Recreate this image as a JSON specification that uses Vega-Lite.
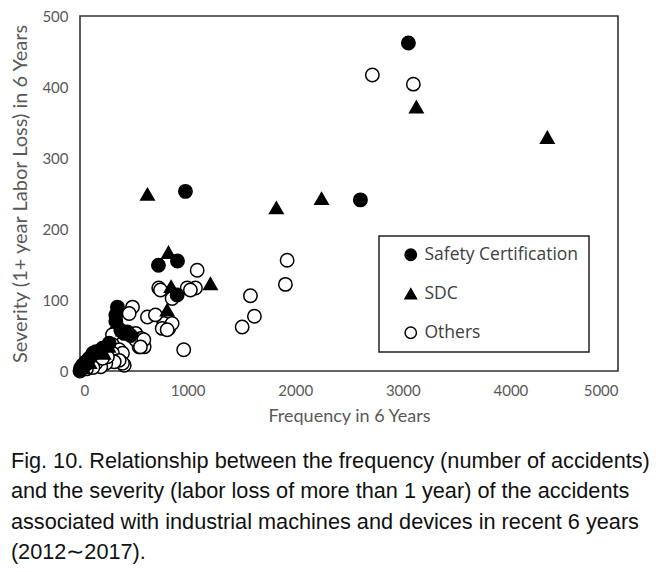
{
  "$schema": "https://vega.github.io/schema/vega-lite/v6.json",
  "width": 538,
  "height": 355,
  "autosize": {"type": "none"},
  "padding": {"left": 80, "top": 16, "right": 41, "bottom": 201},
  "background": "white",
  "title": {
    "text": [
      "Fig. 10. Relationship between the frequency (number of accidents)",
      "and the severity (labor loss of more than 1 year) of the accidents",
      "associated with industrial machines and devices in recent 6 years",
      "(2012∼2017)."
    ],
    "orient": "bottom",
    "anchor": "start",
    "frame": "bounds",
    "baseline": "top",
    "offset": 26,
    "dx": 0,
    "font": "Liberation Sans",
    "fontSize": 21.7,
    "fontWeight": "normal",
    "lineHeight": 30.3,
    "color": "#111111"
  },
  "data": {
    "values": [
      {"freq": 2717, "sev": 417, "type": "Others"},
      {"freq": 3098, "sev": 404, "type": "Others"},
      {"freq": 1925, "sev": 156, "type": "Others"},
      {"freq": 1909, "sev": 122, "type": "Others"},
      {"freq": 1584, "sev": 106, "type": "Others"},
      {"freq": 1621, "sev": 77, "type": "Others"},
      {"freq": 1507, "sev": 62, "type": "Others"},
      {"freq": 1089, "sev": 142, "type": "Others"},
      {"freq": 1073, "sev": 117, "type": "Others"},
      {"freq": 996, "sev": 117, "type": "Others"},
      {"freq": 732, "sev": 117, "type": "Others"},
      {"freq": 856, "sev": 102, "type": "Others"},
      {"freq": 779, "sev": 67, "type": "Others"},
      {"freq": 825, "sev": 60, "type": "Others"},
      {"freq": 856, "sev": 67, "type": "Others"},
      {"freq": 964, "sev": 30, "type": "Others"},
      {"freq": 627, "sev": 76, "type": "Others"},
      {"freq": 701, "sev": 79, "type": "Others"},
      {"freq": 764, "sev": 60, "type": "Others"},
      {"freq": 810, "sev": 58, "type": "Others"},
      {"freq": 748, "sev": 114, "type": "Others"},
      {"freq": 1026, "sev": 114, "type": "Others"},
      {"freq": 488, "sev": 90, "type": "Others"},
      {"freq": 457, "sev": 81, "type": "Others"},
      {"freq": 518, "sev": 53, "type": "Others"},
      {"freq": 565, "sev": 46, "type": "Others"},
      {"freq": 550, "sev": 34, "type": "Others"},
      {"freq": 596, "sev": 34, "type": "Others"},
      {"freq": 518, "sev": 44, "type": "Others"},
      {"freq": 593, "sev": 44, "type": "Others"},
      {"freq": 562, "sev": 34, "type": "Others"},
      {"freq": 333, "sev": 55, "type": "Others"},
      {"freq": 302, "sev": 51, "type": "Others"},
      {"freq": 302, "sev": 37, "type": "Others"},
      {"freq": 364, "sev": 30, "type": "Others"},
      {"freq": 395, "sev": 25, "type": "Others"},
      {"freq": 302, "sev": 25, "type": "Others"},
      {"freq": 411, "sev": 8, "type": "Others"},
      {"freq": 395, "sev": 11, "type": "Others"},
      {"freq": 364, "sev": 15, "type": "Others"},
      {"freq": 318, "sev": 13, "type": "Others"},
      {"freq": 240, "sev": 11, "type": "Others"},
      {"freq": 193, "sev": 6, "type": "Others"},
      {"freq": 147, "sev": 11, "type": "Others"},
      {"freq": 255, "sev": 20, "type": "Others"},
      {"freq": 209, "sev": 18, "type": "Others"},
      {"freq": 120, "sev": 5, "type": "Others"},
      {"freq": 60, "sev": 3, "type": "Others"},
      {"freq": 3126, "sev": 372, "type": "SDC"},
      {"freq": 4343, "sev": 329, "type": "SDC"},
      {"freq": 627, "sev": 249, "type": "SDC"},
      {"freq": 1825, "sev": 230, "type": "SDC"},
      {"freq": 2245, "sev": 243, "type": "SDC"},
      {"freq": 822, "sev": 167, "type": "SDC"},
      {"freq": 1212, "sev": 123, "type": "SDC"},
      {"freq": 847, "sev": 119, "type": "SDC"},
      {"freq": 810, "sev": 86, "type": "SDC"},
      {"freq": 400, "sev": 58, "type": "SDC"},
      {"freq": 265, "sev": 35, "type": "SDC"},
      {"freq": 220, "sev": 25, "type": "SDC"},
      {"freq": 90, "sev": 12, "type": "SDC"},
      {"freq": 30, "sev": 5, "type": "SDC"},
      {"freq": 3052, "sev": 462, "type": "Safety Certification"},
      {"freq": 980, "sev": 253, "type": "Safety Certification"},
      {"freq": 2606, "sev": 241, "type": "Safety Certification"},
      {"freq": 729, "sev": 149, "type": "Safety Certification"},
      {"freq": 906, "sev": 155, "type": "Safety Certification"},
      {"freq": 903, "sev": 107, "type": "Safety Certification"},
      {"freq": 348, "sev": 90, "type": "Safety Certification"},
      {"freq": 333, "sev": 79, "type": "Safety Certification"},
      {"freq": 333, "sev": 70, "type": "Safety Certification"},
      {"freq": 411, "sev": 53, "type": "Safety Certification"},
      {"freq": 380, "sev": 57, "type": "Safety Certification"},
      {"freq": 440, "sev": 55, "type": "Safety Certification"},
      {"freq": 470, "sev": 50, "type": "Safety Certification"},
      {"freq": 271, "sev": 39, "type": "Safety Certification"},
      {"freq": 209, "sev": 32, "type": "Safety Certification"},
      {"freq": 147, "sev": 27, "type": "Safety Certification"},
      {"freq": 116, "sev": 23, "type": "Safety Certification"},
      {"freq": 120, "sev": 25, "type": "Safety Certification"},
      {"freq": 85, "sev": 18, "type": "Safety Certification"},
      {"freq": 54, "sev": 13, "type": "Safety Certification"},
      {"freq": 60, "sev": 10, "type": "Safety Certification"},
      {"freq": 23, "sev": 8, "type": "Safety Certification"},
      {"freq": 5, "sev": 4, "type": "Safety Certification"},
      {"freq": 0, "sev": 0, "type": "Safety Certification"}
    ]
  },
  "mark": {"type": "point", "filled": true, "strokeWidth": 1.5, "opacity": 1, "size": 180, "clip": false},
  "encoding": {
    "x": {
      "field": "freq", "type": "quantitative",
      "scale": {"domain": [0, 5000], "nice": false, "zero": true},
      "axis": {"title": "Frequency in 6 Years", "values": [0, 1000, 2000, 3000, 4000, 5000], "format": "d", "labelPadding": 12, "titlePadding": 9}
    },
    "y": {
      "field": "sev", "type": "quantitative",
      "scale": {"domain": [0, 500], "nice": false},
      "axis": {"title": "Severity (1+ year Labor Loss) in 6 Years", "titleFontSize": 20, "values": [0, 100, 200, 300, 400, 500], "format": "d", "labelPadding": 12, "titlePadding": 11}
    },
    "shape": {
      "field": "type", "type": "nominal",
      "scale": {"domain": ["Safety Certification", "SDC", "Others"], "range": ["circle", "triangle-up", "circle"]},
      "legend": {"title": null, "labelExpr": "datum.label + '\u2003'"}
    },
    "fill": {
      "field": "type", "type": "nominal",
      "scale": {"domain": ["Safety Certification", "SDC", "Others"], "range": ["black", "black", "white"]},
      "legend": {"title": null, "labelExpr": "datum.label + '\u2003'"}
    },
    "stroke": {
      "field": "type", "type": "nominal",
      "scale": {"domain": ["Safety Certification", "SDC", "Others"], "range": ["black", "black", "black"]},
      "legend": {"title": null, "labelExpr": "datum.label + '\u2003'"}
    }
  },
  "config": {
    "view": {"stroke": "#333333", "strokeWidth": 1.6},
    "axis": {
      "grid": false, "ticks": false, "tickSize": 0, "domain": false,
      "labelFont": "Lato", "labelFontSize": 15, "labelColor": "#595959",
      "titleFont": "Lato", "titleFontSize": 18, "titleFontWeight": "normal", "titleColor": "#595959"
    },
    "legend": {
      "orient": "none", "legendX": 299, "legendY": 220,
      "strokeColor": "#222222", "strokeWidth": 1.5, "fillColor": "white",
      "padding": 10, "rowPadding": 20, "symbolOffset": 13,
      "symbolSize": 130, "symbolStrokeWidth": 1.5,
      "labelFont": "Open Sans", "labelFontSize": 17.5, "labelColor": "#404040", "labelOffset": 5, "labelLimit": 300
    }
  }
}
